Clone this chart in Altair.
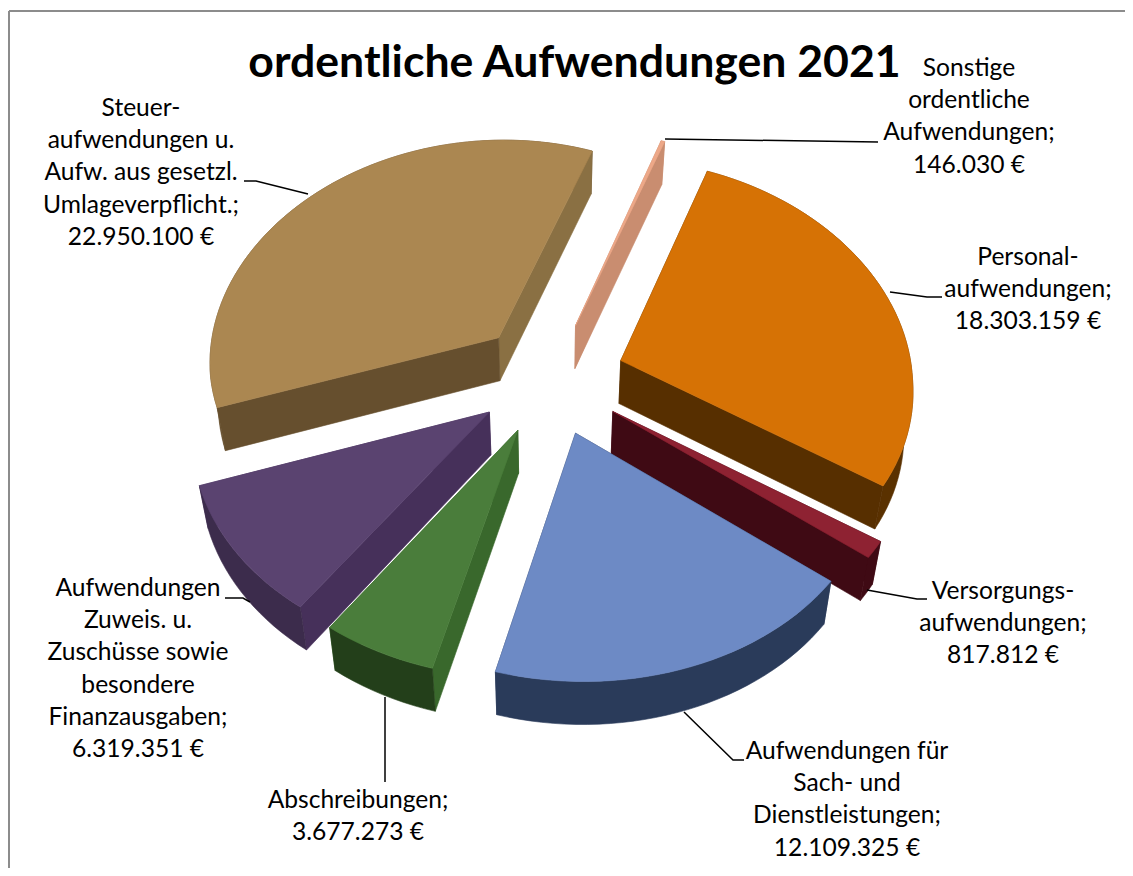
import math
import altair as alt

TITLE = "ordentliche Aufwendungen 2021"
# clockwise order, as drawn in the chart
names = ["Sonstige", "Personal", "Versorgung", "Sach", "Abschreibungen", "Zuweisungen", "Steuer"]
values = [146030, 18303159, 817812, 12109325, 3677273, 6319351, 22950100]
top_colors = ["#eda888", "#d67205", "#8e2232", "#6d8ac5", "#4a7d3b", "#5a4370", "#ab8751"]
start_wall = ["#c98d70", "#572f00", "#3f0a14", "#2a3b5a", "#39682c", "#46305a", "#664f2e"]
end_wall = ["#c98d70", "#572f00", "#3f0a14", "#2a3b5a", "#39682c", "#46305a", "#8a7043"]
outer_wall = ["#c98d70", "#5a3100", "#3f0a14", "#2a3b5a", "#233f1a", "#3c2c4c", "#664f2e"]
paint_order = [0, 6, 1, 5, 2, 4, 3]

label_text = [
    ["Sonstige", "ordentliche", "Aufwendungen;", "146.030 €"],
    ["Personal-", "aufwendungen;", "18.303.159 €"],
    ["Versorgungs-", "aufwendungen;", "817.812 €"],
    ["Aufwendungen für", "Sach- und", "Dienstleistungen;", "12.109.325 €"],
    ["Abschreibungen;", "3.677.273 €"],
    ["Aufwendungen", "Zuweis. u.", "Zuschüsse sowie", "besondere", "Finanzausgaben;", "6.319.351 €"],
    ["Steuer-", "aufwendungen u.", "Aufw. aus gesetzl.", "Umlageverpflicht.;", "22.950.100 €"],
]
# layout: label anchor (centre x, first line centre y), in page pixels
label_pos = [(969, 69), (1028, 258), (1003, 592), (847, 752), (358, 801), (138, 589), (141, 109)]
leader_paths = [
    [(665, 139), (878, 142)],
    [(890, 292), (927, 297), (942, 297)],
    [(867, 590), (917, 599), (927, 599)],
    [(684, 712), (733, 760), (744, 760)],
    [(385, 697), (385, 782)],
    [(225, 598), (243, 598), (250, 602)],
    [(244, 181), (256, 181), (308, 194)],
]

# projection of the 3-D pie
OX, OY = 8, 8            # page margin
CX, CY = 550, 378        # pie centre on the page
K = 0.76                 # vertical squash
R = 292                  # radius
EXPLODE = 75
PERSP_X = 0.10
PERSP_Y = 0.08
SHEAR = 0.02
DEPTH = 43
SHRINK = 0.025
FIRST_ANGLE = 70.0       # degrees, counterclockwise from east


def top_point(px, py):
    return (
        CX + (1 + PERSP_X * py / R) * px + SHEAR * max(py, 0),
        CY + (1 + PERSP_Y * py / R) * K * py,
    )


def bottom_point(px, py):
    x, y = top_point(px, py)
    return (CX + (x - CX) * (1 - SHRINK), y + DEPTH)


def ring(points):
    pts = [[round(x - OX, 2), round(y - OY, 2)] for x, y in points]
    return pts + [pts[0]]


def polygon(points, color):
    return {
        "type": "Feature",
        "properties": {"fill": color},
        "geometry": {"type": "Polygon", "coordinates": [ring(points)]},
    }


total = sum(values)
spans = []
a = FIRST_ANGLE
for v in values:
    sweep = 360 * v / total
    spans.append((a, a - sweep))
    a -= sweep

features = []
for i in paint_order:
    a0, a1 = spans[i]
    mid = math.radians((a0 + a1) / 2)
    ex, ey = EXPLODE * math.cos(mid), -EXPLODE * math.sin(mid)
    n = max(3, int(abs(a1 - a0) / 2))
    arc = []
    for j in range(n + 1):
        t = math.radians(a0 + (a1 - a0) * j / n)
        arc.append((ex + R * math.cos(t), ey - R * math.sin(t)))
    tip = (ex, ey)
    t_arc = [top_point(*p) for p in arc]
    b_arc = [bottom_point(*p) for p in arc]
    t_tip, b_tip = top_point(*tip), bottom_point(*tip)
    walls = [
        ([t_tip, t_arc[0], b_arc[0], b_tip], start_wall[i]),
        ([t_tip, t_arc[-1], b_arc[-1], b_tip], end_wall[i]),
        (t_arc + b_arc[::-1], outer_wall[i]),
    ]
    walls.sort(key=lambda w: sum(p[1] for p in w[0]) / len(w[0]))
    for pts, col in walls:
        features.append(polygon(pts, col))
    features.append(polygon([t_tip] + t_arc, top_colors[i]))

proj = alt.Projection(type="identity", scale=1, translate=[0, 0])

pie = (
    alt.Chart(alt.Data(values=features))
    .mark_geoshape(strokeWidth=0.6)
    .encode(
        fill=alt.Fill("properties.fill:N", scale=None),
        stroke=alt.Stroke("properties.fill:N", scale=None),
    )
    .project(**proj.to_dict())
)

leader_features = [
    {
        "type": "Feature",
        "properties": {"name": names[i]},
        "geometry": {
            "type": "LineString",
            "coordinates": [[x - OX, y - OY] for x, y in leader_paths[i]],
        },
    }
    for i in range(len(leader_paths))
]
leaders = (
    alt.Chart(alt.Data(values=leader_features))
    .mark_geoshape(filled=False, stroke="#000000", strokeWidth=1.5)
    .project(**proj.to_dict())
)

layers = [pie, leaders]
for lines, (lx, ly) in zip(label_text, label_pos):
    layers.append(
        alt.Chart(alt.Data(values=[{"t": lines}]))
        .mark_text(
            font="Lato", fontSize=24.6, color="#000000", align="center",
            baseline="middle", lineHeight=32.2,
        )
        .encode(x=alt.value(lx - OX), y=alt.value(ly - OY), text="t:N")
    )

border_color = "#8c8c8c"
frame = [
    alt.Chart(alt.Data(values=[{}])).mark_rule(color=border_color, strokeWidth=2).encode(
        x=alt.value(1), x2=alt.value(1117), y=alt.value(3)),
    alt.Chart(alt.Data(values=[{}])).mark_rule(color=border_color, strokeWidth=2).encode(
        x=alt.value(1), y=alt.value(3), y2=alt.value(860)),
]

chart = (
    alt.layer(*frame, *layers)
    .properties(
        width=1117,
        height=860,
        padding=0,
        autosize=alt.AutoSizeParams(type="none"),
        title=alt.TitleParams(
            TITLE, font="Lato", fontSize=44.6, fontWeight="bold", color="#000000",
            anchor="middle", dx=8, offset=-79,
        ),
    )
    .configure_view(stroke=None)
)

chart.save("out.html", embed_options={"renderer": "svg", "actions": False})
